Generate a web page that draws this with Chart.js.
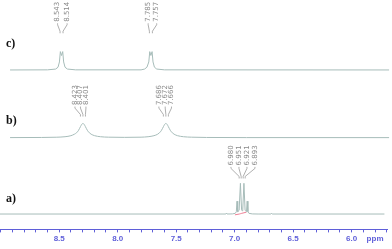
<!DOCTYPE html>
<html>
<head>
<meta charset="utf-8">
<script src="https://cdn.jsdelivr.net/npm/chart.js"></script>
<style>
  body { margin: 0; background: #fff; }
  canvas { display: block; }
</style>
</head>
<body>
<canvas id="nmr" width="392" height="249"></canvas>
<script>
// axis labels
const majorTicks = [8.5, 8.0, 7.5, 7.0, 6.5, 6.0];

// stacking offsets of the three spectra (y units)
const baseC = 69.5;
const baseB = 40.0;
const baseA = 6.7;

// spectrum c) - ppm / intensity
const cPpm = [8.92, 8.60, 8.53, 8.51, 8.498, 8.490, 8.480, 8.470, 8.462, 8.45, 8.43, 8.36,
  7.80, 7.77, 7.75, 7.734, 7.726, 7.716, 7.706, 7.698, 7.686, 7.666, 7.60, 5.68];
const cInt = [0, 0.05, 0.4, 1.2, 3.5, 8.0, 6.3, 8.0, 3.5, 1.2, 0.4, 0.05,
  0.05, 0.4, 1.2, 3.5, 8.0, 6.3, 8.0, 3.5, 1.2, 0.4, 0.05, 0];

// spectrum b)
const bPpm = [8.92, 8.65, 8.52, 8.45, 8.40, 8.37, 8.352, 8.337, 8.327, 8.317, 8.307, 8.297,
  8.287, 8.277, 8.267, 8.257, 8.242, 8.227, 8.197, 8.147, 8.077, 7.94,
  7.80, 7.74, 7.69, 7.658, 7.643, 7.628, 7.618, 7.608, 7.598, 7.588,
  7.578, 7.568, 7.558, 7.548, 7.533, 7.518, 7.488, 7.438, 7.368, 7.24, 6.9, 5.68];
const bInt = [0.02, 0.08, 0.19, 0.4, 0.85, 1.5, 2.1, 3.0, 3.9, 4.9, 5.8, 6.2,
  5.8, 4.9, 3.9, 3.0, 2.1, 1.5, 0.85, 0.4, 0.2, 0.12,
  0.2, 0.4, 0.85, 1.5, 2.1, 3.0, 3.9, 4.9, 5.8, 6.2,
  5.8, 4.9, 3.9, 3.0, 2.1, 1.5, 0.85, 0.4, 0.2, 0.08, 0.02, 0];

// spectrum a)
const aPpm = [9.006, 7.10, 7.075, 7.07, 7.065, 7.02, 6.995, 6.986, 6.980, 6.974, 6.962, 6.951,
  6.941, 6.936, 6.931, 6.921, 6.911, 6.899, 6.893, 6.887, 6.878, 6.85, 6.80,
  6.69, 6.685, 6.68, 5.72];
const aInt = [0, 0, 0, 0.4, 0, 0.05, 0.3, 1.0, 5.6, 1.0, 1.6, 13.4,
  1.8, 1.4, 1.8, 13.4, 1.6, 1.0, 5.6, 1.0, 0.3, 0.05, 0,
  0, 0.3, 0, 0];

// integral trace under a)
const intPpm = [6.998, 6.96, 6.95, 6.94, 6.90];
const intVal = [-0.35, 0.0, 0.15, 0.3, 0.8];

// peak labels
const cLabels1 = ['8.543', '8.514'];
const cLabels2 = ['7.785', '7.757'];
const bLabels1 = ['8.423', '8.407', '8.401'];
const bLabels2 = ['7.686', '7.672', '7.666'];
const aLabels = ['6.980', '6.951', '6.921', '6.893'];

const lineColor = '#a6bcb9';
const axisBlue = '#5f5fd9';

function pts(ppm, vals, base) {
  return ppm.map((p, i) => ({ x: p, y: base + vals[i] }));
}

const groups = [
  { texts: cLabels1, ppm: 8.480, shift: 0.8, gap: 9.5, endGap: 3, top: 90.5, end: 85.5 },
  { texts: cLabels2, ppm: 7.716, shift: 1.5, gap: 8.5, endGap: 3, top: 90.5, end: 85.5 },
  { texts: bLabels1, ppm: 8.297, shift: -2.5, gap: 5.5, endGap: 2.5, top: 54.2, end: 49.2 },
  { texts: bLabels2, ppm: 7.588, shift: -0.7, gap: 6.3, endGap: 2.5, top: 54.2, end: 49.2 },
  { texts: aLabels, ppm: 6.936, shift: 0.8, gap: 8, endGap: 2, top: 27.9, end: 22.2 }
];

const tags = [
  { text: 'c)', y: 81.0 },
  { text: 'b)', y: 47.5 },
  { text: 'a)', y: 13.2 }
];

const annotate = {
  id: 'annotate',
  afterDatasetsDraw(chart) {
    const ctx = chart.ctx;
    const xs = chart.scales.x;
    const ys = chart.scales.y;
    ctx.save();
    ctx.font = '7px "DejaVu Sans"';
    ctx.fillStyle = '#8a8a8a';
    ctx.strokeStyle = '#9a9a9a';
    ctx.lineWidth = 0.8;
    groups.forEach(g => {
      const xc = xs.getPixelForValue(g.ppm);
      const yb = ys.getPixelForValue(g.top);
      const ye = ys.getPixelForValue(g.end);
      const n = g.texts.length;
      g.texts.forEach((t, i) => {
        const k = i - (n - 1) / 2;
        const lx = xc + g.shift + k * g.gap;
        const ex = xc + k * g.endGap;
        ctx.save();
        ctx.translate(lx, yb);
        ctx.rotate(-Math.PI / 2);
        ctx.textAlign = 'left';
        ctx.textBaseline = 'middle';
        ctx.fillText(t, 0, 0);
        ctx.restore();
        ctx.beginPath();
        ctx.moveTo(lx, yb + 1.5);
        ctx.lineTo(lx, yb + 3);
        ctx.lineTo(ex, ye - 2);
        ctx.lineTo(ex, ye);
        ctx.stroke();
      });
    });
    ctx.font = 'bold 12px "Liberation Serif"';
    ctx.fillStyle = '#111';
    ctx.textAlign = 'left';
    ctx.textBaseline = 'middle';
    tags.forEach(t => {
      ctx.fillText(t.text, 6, ys.getPixelForValue(t.y));
    });
    ctx.restore();
  }
};

new Chart(document.getElementById('nmr'), {
  type: 'line',
  data: {
    datasets: [
      { data: pts(cPpm, cInt, baseC), borderColor: lineColor, borderWidth: 1, tension: 0 },
      { data: pts(bPpm, bInt, baseB), borderColor: lineColor, borderWidth: 1, cubicInterpolationMode: 'monotone' },
      { data: pts(aPpm, aInt, baseA), borderColor: lineColor, borderWidth: 1, tension: 0 },
      { data: pts(intPpm, intVal, baseA), borderColor: '#e8607a', borderWidth: 0.8, tension: 0 }
    ]
  },
  options: {
    responsive: false,
    animation: false,
    devicePixelRatio: 1,
    layout: { padding: { left: 0, right: 5, top: 0, bottom: 3 } },
    elements: { point: { radius: 0 } },
    datasets: { line: { clip: false } },
    plugins: { legend: { display: false }, tooltip: { enabled: false } },
    scales: {
      x: {
        type: 'linear',
        reverse: true,
        min: 5.698,
        max: 9.006,
        border: { color: axisBlue, width: 1 },
        grid: { drawOnChartArea: false, tickLength: 3, tickColor: axisBlue },
        afterBuildTicks: (scale) => {
          const t = [];
          for (let k = 57; k <= 90; k++) t.push({ value: k / 10 });
          scale.ticks = t;
        },
        ticks: {
          autoSkip: false,
          maxRotation: 0,
          minRotation: 0,
          padding: 2,
          color: axisBlue,
          font: { family: '"Liberation Sans"', size: 8, weight: 'bold' },
          callback: (value) => {
            const v = Math.round(value * 10) / 10;
            if (majorTicks.includes(v)) return v.toFixed(1);
            if (v === 5.8) return 'ppm';
            return '';
          }
        }
      },
      y: { display: false, min: 0, max: 100 }
    }
  },
  plugins: [annotate]
});
</script>
</body>
</html>
